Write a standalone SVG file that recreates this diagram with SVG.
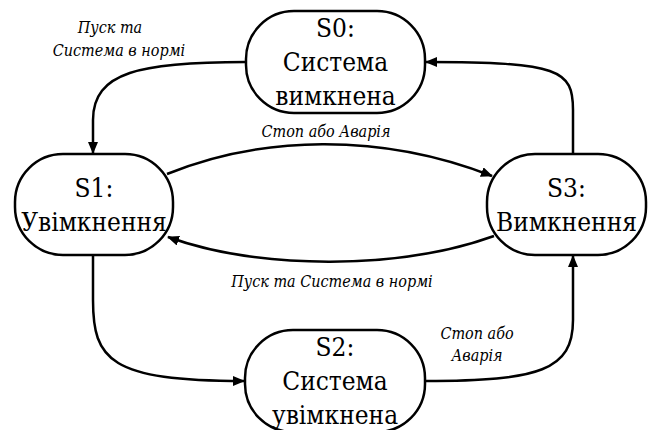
<svg xmlns="http://www.w3.org/2000/svg" width="649" height="430" viewBox="0 0 649 430">
<defs>
<marker id="arr" viewBox="0 0 12 10" refX="11" refY="5" markerWidth="12" markerHeight="10" markerUnits="userSpaceOnUse" orient="auto">
<path d="M0,0 L12,5 L0,10 Z" fill="#000"/>
</marker>
</defs>
<style>
.node rect{fill:#fff;stroke:#000;stroke-width:2.5}
.node text{font-family:'DejaVu Serif Condensed','DejaVu Serif','Liberation Serif',serif;font-stretch:condensed;font-size:26px;text-anchor:middle;fill:#000}
.edge{fill:none;stroke:#000;stroke-width:2.5;marker-end:url(#arr)}
.el{font-family:'DejaVu Serif Condensed','DejaVu Serif','Liberation Serif',serif;font-stretch:condensed;font-style:italic;font-size:16px;text-anchor:middle;fill:#000}
</style>
<rect width="649" height="430" fill="#fff"/>
<g id="connectors">
<path class="edge" d="M246,62 C140,62 93,72 93,120 L93,153"/>
<path class="edge" d="M167,174 C260,136 380,132 492,176"/>
<path class="edge" d="M494,236 C400,270 260,270 168,237"/>
<path class="edge" d="M93,255 L93,300 C93,360 110,381 244,381"/>
<path class="edge" d="M425,381 C540,381 573,370 573,320 L573,256"/>
<path class="edge" d="M573,154 L573,110 C573,70 560,62 426,62"/>
</g>
<g id="edge-labels">
<text class="el" x="110" y="33">Пуск та</text>
<text class="el" x="119" y="56">Система в нормі</text>
<text class="el" x="326" y="137">Стоп або Аварія</text>
<text class="el" x="332" y="287">Пуск та Система в нормі</text>
<text class="el" x="477" y="339">Стоп або</text>
<text class="el" x="477" y="361">Аварія</text>
</g>
<g id="S0" class="node">
<rect x="246" y="11" width="179" height="102" rx="48" ry="48"/>
<text x="335.5" y="37">S0:</text>
<text x="335.5" y="71">Система</text>
<text x="335.5" y="105">вимкнена</text>
</g>
<g id="S1" class="node">
<rect x="15" y="154" width="158" height="101" rx="48" ry="48"/>
<text x="94" y="197">S1:</text>
<text x="94" y="231">Увімкнення</text>
</g>
<g id="S3" class="node">
<rect x="487" y="154" width="159" height="101" rx="48" ry="48"/>
<text x="566.5" y="197">S3:</text>
<text x="566.5" y="231">Вимкнення</text>
</g>
<g id="S2" class="node">
<rect x="245" y="330" width="180" height="102" rx="48" ry="48"/>
<text x="335" y="356">S2:</text>
<text x="335" y="390">Система</text>
<text x="335" y="424">увімкнена</text>
</g>
</svg>
